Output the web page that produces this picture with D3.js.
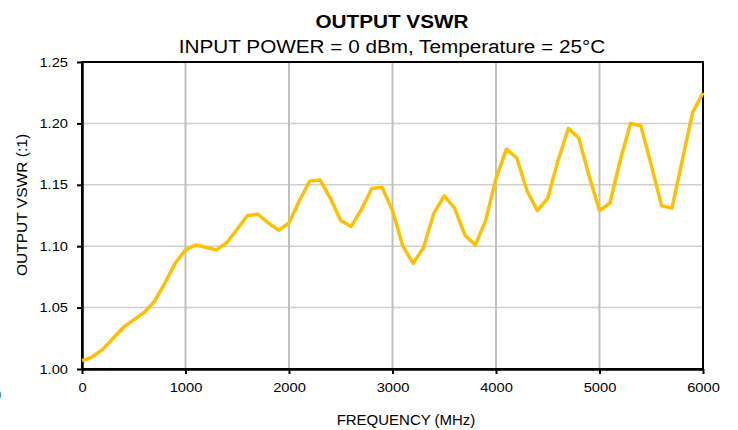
<!DOCTYPE html>
<html>
<head>
<meta charset="utf-8">
<script src="https://cdn.jsdelivr.net/npm/d3@7"></script>
<style>
  body { margin: 0; background: #fff; }
  text { font-family: "Liberation Sans", Arial, sans-serif; }
</style>
</head>
<body>
<div id="vis"></div>
<script>
// data (MHz, VSWR :1)
const freqs = [0, 50, 100, 200, 300, 400, 500, 600, 700, 800, 900,
    1000, 1100, 1200, 1300, 1400, 1500, 1600, 1700, 1800, 1900,
    2000, 2100, 2200, 2300, 2400, 2500, 2600, 2700, 2800, 2900,
    3000, 3100, 3200, 3300, 3400, 3500, 3600, 3700, 3800, 3900,
    4000, 4100, 4200, 4300, 4400, 4500, 4600, 4700, 4800, 4900,
    5000, 5100, 5200, 5300, 5400, 5500, 5600, 5700, 5800, 5900, 6000];
const vswr = [1.007, 1.008, 1.010, 1.016, 1.025, 1.034, 1.040, 1.046, 1.055, 1.070, 1.086,
    1.097, 1.101, 1.099, 1.097, 1.103, 1.114, 1.125, 1.126, 1.119, 1.113,
    1.119, 1.137, 1.153, 1.154, 1.139, 1.121, 1.116, 1.130, 1.147, 1.148,
    1.129, 1.100, 1.086, 1.099, 1.127, 1.141, 1.131, 1.109, 1.101, 1.121,
    1.155, 1.179, 1.172, 1.145, 1.129, 1.139, 1.170, 1.196, 1.188, 1.157,
    1.129, 1.135, 1.170, 1.200, 1.198, 1.166, 1.133, 1.131, 1.170, 1.209, 1.225];
const xTicks = [0, 1000, 2000, 3000, 4000, 5000, 6000];
const yTicks = [1.00, 1.05, 1.10, 1.15, 1.20, 1.25];

const svg = d3.select("#vis")
    .append("svg")
    .attr("width", 738)
    .attr("height", 430);

const plotLeft = 82, plotRight = 703, plotTop = 62, plotBottom = 369;

const x = d3.scaleLinear().domain([0, 6000]).range([plotLeft, plotRight]);
const y = d3.scaleLinear().domain([1.00, 1.25]).range([plotBottom, plotTop]);

// the reference text is a bit wider than Liberation Sans, stretch it
function stretch(sel, k) {
    sel.each(function () {
        const w = this.getComputedTextLength();
        d3.select(this)
            .attr("textLength", w * k)
            .attr("lengthAdjust", "spacingAndGlyphs");
    });
}

// titles
svg.append("text")
    .attr("x", 392).attr("y", 28)
    .attr("text-anchor", "middle")
    .style("font-size", "18px").style("font-weight", "bold")
    .text("OUTPUT VSWR")
    .call(stretch, 1.15);

svg.append("text")
    .attr("x", 392).attr("y", 53)
    .attr("text-anchor", "middle")
    .style("font-size", "18px")
    .text("INPUT POWER = 0 dBm, Temperature = 25°C")
    .call(stretch, 1.15);

// grid
svg.append("g")
    .selectAll("line")
    .data(yTicks.slice(1, -1))
    .enter().append("line")
    .attr("x1", plotLeft).attr("x2", plotRight)
    .attr("y1", d => y(d)).attr("y2", d => y(d))
    .style("stroke", "#d0d0d0").style("stroke-width", 1.5);

svg.append("g")
    .selectAll("line")
    .data(xTicks.slice(1, -1))
    .enter().append("line")
    .attr("x1", d => x(d)).attr("x2", d => x(d))
    .attr("y1", plotTop).attr("y2", plotBottom)
    .style("stroke", "#c0c0c0").style("stroke-width", 2);

// frame
svg.append("rect")
    .attr("x", plotLeft).attr("y", plotTop)
    .attr("width", plotRight - plotLeft).attr("height", plotBottom - plotTop)
    .attr("fill", "none")
    .style("stroke", "#000").style("stroke-width", 2);

// axes
const xAxis = svg.append("g")
    .attr("transform", `translate(0,${plotBottom})`)
    .call(d3.axisBottom(x).tickValues(xTicks).tickSize(5).tickSizeOuter(0).tickPadding(9).tickFormat(d3.format("d")));
const yAxis = svg.append("g")
    .attr("transform", `translate(${plotLeft},0)`)
    .call(d3.axisLeft(y).tickValues(yTicks).tickSize(5).tickSizeOuter(0).tickPadding(9).tickFormat(d3.format(".2f")));

[xAxis, yAxis].forEach(a => {
    a.select(".domain").style("stroke", "#000").style("stroke-width", 2.5);
    a.selectAll(".tick line").style("stroke", "#000").style("stroke-width", 2);
    a.selectAll(".tick text")
        .style("font-family", "'Liberation Sans', Arial, sans-serif")
        .style("font-size", "13px").attr("fill", "#000")
        .call(stretch, 1.13);
});

// axis labels
svg.append("text")
    .attr("x", 406).attr("y", 425)
    .attr("text-anchor", "middle")
    .style("font-size", "14px")
    .text("FREQUENCY (MHz)")
    .call(stretch, 1.07);

svg.append("text")
    .attr("transform", "translate(27,205) rotate(-90)")
    .attr("text-anchor", "middle")
    .style("font-size", "14px")
    .text("OUTPUT VSWR (:1)")
    .call(stretch, 1.11);

svg.append("text")
    .attr("x", -3).attr("y", 398)
    .style("font-size", "13px")
    .text(")");

// curve
const line = d3.line()
    .x((d, i) => x(freqs[i]))
    .y(d => y(d));

svg.append("path")
    .datum(vswr)
    .attr("d", line)
    .attr("fill", "none")
    .style("stroke", "#ffc000")
    .style("stroke-width", 3.5)
    .style("stroke-linejoin", "round");
</script>
</body>
</html>
